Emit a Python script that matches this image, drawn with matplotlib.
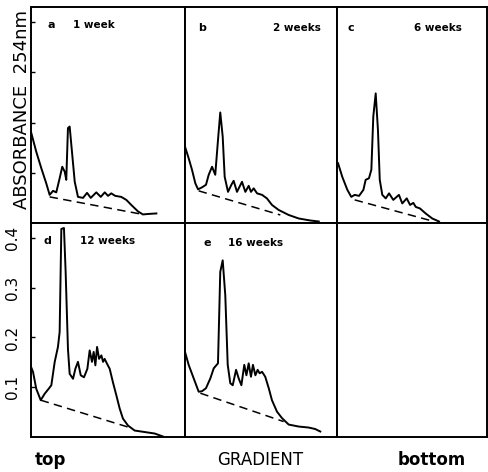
import matplotlib
matplotlib.use('Agg')
import matplotlib.pyplot as plt

# sucrose gradient A254 profiles, x = fraction of gradient (0 = top, 1 = bottom)
letters = ['a', 'b', 'c', 'd', 'e']
ages = ['1 week', '2 weeks', '6 weeks', '12 weeks', '16 weeks']

a_x = [0.002, 0.034, 0.067, 0.099, 0.121, 0.143, 0.164, 0.186, 0.203, 0.219, 0.229, 0.240, 0.251,
       0.266, 0.284, 0.305, 0.338, 0.364, 0.388, 0.424, 0.453, 0.479, 0.500, 0.521, 0.547, 0.586,
       0.619, 0.651, 0.695, 0.727, 0.760, 0.814]
a_y = [0.179, 0.142, 0.109, 0.079, 0.056, 0.064, 0.061, 0.089, 0.112, 0.102, 0.086, 0.189, 0.192,
       0.142, 0.082, 0.052, 0.050, 0.060, 0.050, 0.061, 0.052, 0.061, 0.054, 0.059, 0.054, 0.052,
       0.046, 0.036, 0.023, 0.017, 0.018, 0.019]

b_x = [0.000, 0.024, 0.046, 0.068, 0.086, 0.112, 0.138, 0.156, 0.178, 0.199, 0.217, 0.232, 0.248,
       0.261, 0.283, 0.305, 0.320, 0.342, 0.375, 0.397, 0.419, 0.434, 0.452, 0.474, 0.507, 0.539,
       0.572, 0.616, 0.682, 0.748, 0.824, 0.880]
b_y = [0.152, 0.129, 0.106, 0.079, 0.067, 0.071, 0.076, 0.096, 0.112, 0.096, 0.165, 0.220, 0.172,
       0.092, 0.062, 0.076, 0.084, 0.062, 0.082, 0.062, 0.074, 0.062, 0.069, 0.059, 0.056, 0.049,
       0.036, 0.026, 0.016, 0.009, 0.005, 0.003]

c_x = [0.007, 0.035, 0.069, 0.095, 0.118, 0.147, 0.176, 0.191, 0.213, 0.229, 0.242, 0.258, 0.273,
       0.285, 0.302, 0.325, 0.347, 0.375, 0.413, 0.435, 0.465, 0.487, 0.509, 0.525, 0.553, 0.591,
       0.635, 0.680]
c_y = [0.119, 0.092, 0.066, 0.052, 0.056, 0.054, 0.066, 0.086, 0.089, 0.106, 0.212, 0.258, 0.185,
       0.086, 0.056, 0.049, 0.059, 0.046, 0.056, 0.039, 0.049, 0.036, 0.040, 0.032, 0.029, 0.019,
       0.009, 0.003]

d_x = [0.000, 0.013, 0.034, 0.063, 0.089, 0.115, 0.132, 0.154, 0.175, 0.186, 0.197, 0.214, 0.225,
       0.240, 0.251, 0.273, 0.288, 0.305, 0.323, 0.344, 0.366, 0.381, 0.396, 0.407, 0.418, 0.429,
       0.442, 0.457, 0.468, 0.478, 0.494, 0.511, 0.532, 0.554, 0.576, 0.597, 0.630, 0.673, 0.738,
       0.803, 0.857]
d_y = [0.141, 0.131, 0.097, 0.074, 0.087, 0.097, 0.104, 0.151, 0.181, 0.211, 0.418, 0.420, 0.331,
       0.177, 0.127, 0.117, 0.137, 0.151, 0.124, 0.120, 0.137, 0.174, 0.151, 0.171, 0.144, 0.181,
       0.157, 0.164, 0.151, 0.157, 0.147, 0.137, 0.110, 0.084, 0.057, 0.037, 0.023, 0.013, 0.010,
       0.007, 0.001]

e_x = [0.000, 0.024, 0.057, 0.090, 0.112, 0.138, 0.167, 0.189, 0.217, 0.232, 0.248, 0.265, 0.281,
       0.298, 0.314, 0.336, 0.353, 0.371, 0.390, 0.404, 0.419, 0.434, 0.447, 0.463, 0.478, 0.491,
       0.507, 0.528, 0.551, 0.572, 0.605, 0.638, 0.682, 0.748, 0.814, 0.857, 0.890]
e_y = [0.171, 0.145, 0.118, 0.091, 0.092, 0.098, 0.118, 0.138, 0.148, 0.332, 0.355, 0.285, 0.145,
       0.108, 0.104, 0.135, 0.118, 0.104, 0.145, 0.124, 0.148, 0.121, 0.145, 0.124, 0.135, 0.128,
       0.131, 0.121, 0.098, 0.074, 0.051, 0.038, 0.025, 0.021, 0.019, 0.016, 0.011]

# dashed baselines (start, end)
base_x = [[0.121, 0.727], [0.090, 0.627], [0.118, 0.647], [0.063, 0.630], [0.101, 0.649]]
base_y = [[0.052, 0.017], [0.064, 0.016], [0.046, 0.003], [0.074, 0.020], [0.088, 0.031]]

traces_x = [a_x, b_x, c_x, d_x, e_x]
traces_y = [a_y, b_y, c_y, d_y, e_y]

# text placement inside each panel (axes fraction)
letter_pos = [(0.11, 0.915), (0.085, 0.905), (0.067, 0.905), (0.08, 0.915), (0.125, 0.905)]
age_pos = [(0.27, 0.915), (0.58, 0.905), (0.51, 0.905), (0.32, 0.915), (0.28, 0.905)]

fig = plt.figure(figsize=(4.88, 4.72), dpi=100)

lefts = [31 / 488, 185 / 488, 337 / 488]
widths = [154 / 488, 152 / 488, 150 / 488]
bottoms = [1 - 223 / 472, 1 - 437 / 472]
heights = [216 / 472, 214 / 472]

axes = []
for r in range(2):
    for c in range(3):
        ax = fig.add_axes([lefts[c], bottoms[r], widths[c], heights[r]])
        ax.set_xlim(0, 1)
        ax.set_ylim(0, 0.43)
        ax.set_xticks([])
        for s in ax.spines.values():
            s.set_linewidth(1.4)
        if c == 0:
            ax.set_yticks([0.1, 0.2, 0.3, 0.4])
            ax.tick_params(axis='y', direction='in', length=3, width=1, pad=8, labelsize=11)
            if r == 0:
                ax.set_yticklabels([])
            else:
                ax.set_yticklabels(['0.1', '0.2', '0.3', '0.4'])
                plt.setp(ax.get_yticklabels(), rotation=90, va='center')
        else:
            ax.set_yticks([])
        axes.append(ax)

for i in range(5):
    ax = axes[i]
    ax.plot(traces_x[i], traces_y[i], color='black', lw=1.4, solid_joinstyle='round')
    ax.plot(base_x[i], base_y[i], color='black', lw=1.1, ls=(0, (5.5, 3.5)))
    ax.text(letter_pos[i][0], letter_pos[i][1], letters[i], transform=ax.transAxes,
            fontsize=8, fontweight='bold', va='center')
    ax.text(age_pos[i][0], age_pos[i][1], ages[i], transform=ax.transAxes,
            fontsize=7.5, fontweight='bold', va='center')

fig.text(0.045, 0.767, 'ABSORBANCE  254nm', rotation=90, ha='center', va='center', fontsize=13)
fig.text(0.072, 0.025, 'top', ha='left', va='center', fontsize=12, fontweight='bold')
fig.text(0.533, 0.025, 'GRADIENT', ha='center', va='center', fontsize=12)
fig.text(0.885, 0.025, 'bottom', ha='center', va='center', fontsize=12, fontweight='bold')

fig.savefig('out.png', dpi=100)
